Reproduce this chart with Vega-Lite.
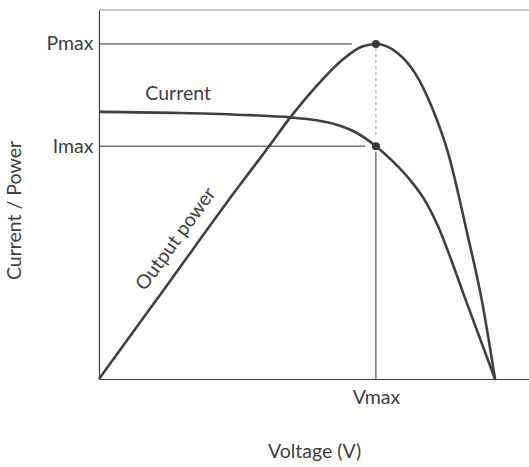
{
  "$schema": "https://vega.github.io/schema/vega-lite/v6.json",
  "width": 430,
  "height": 369,
  "autosize": {"type": "none"},
  "padding": {"left": 99, "top": 10, "right": 0, "bottom": 88},
  "config": {"view": {"stroke": null}, "font": "Lato"},
  "datasets": {
    "curves": [
      {"series": "Current", "x": 0, "y": 72.4},
      {"series": "Current", "x": 18.8, "y": 72.1},
      {"series": "Current", "x": 35.1, "y": 71.5},
      {"series": "Current", "x": 44.4, "y": 70.9},
      {"series": "Current", "x": 50.6, "y": 70.1},
      {"series": "Current", "x": 55.3, "y": 68.9},
      {"series": "Current", "x": 59.1, "y": 67.2},
      {"series": "Current", "x": 64.4, "y": 63.1},
      {"series": "Current", "x": 68.4, "y": 58.9},
      {"series": "Current", "x": 72.3, "y": 54.0},
      {"series": "Current", "x": 76.0, "y": 48.0},
      {"series": "Current", "x": 79.0, "y": 41.0},
      {"series": "Current", "x": 82.0, "y": 32.0},
      {"series": "Current", "x": 85.1, "y": 22.0},
      {"series": "Current", "x": 92.1, "y": 0},
      {"series": "Power", "x": 0, "y": 0},
      {"series": "Power", "x": 16, "y": 25.7},
      {"series": "Power", "x": 32, "y": 51.4},
      {"series": "Power", "x": 38.6, "y": 61.6},
      {"series": "Power", "x": 44.9, "y": 71.5},
      {"series": "Power", "x": 50.2, "y": 78.9},
      {"series": "Power", "x": 56.5, "y": 86.4},
      {"series": "Power", "x": 61.2, "y": 90.1},
      {"series": "Power", "x": 64.4, "y": 90.8},
      {"series": "Power", "x": 69.5, "y": 88.3},
      {"series": "Power", "x": 73.5, "y": 82.9},
      {"series": "Power", "x": 77.4, "y": 73.7},
      {"series": "Power", "x": 81.2, "y": 61.2},
      {"series": "Power", "x": 85.6, "y": 39.6},
      {"series": "Power", "x": 89.1, "y": 20.9},
      {"series": "Power", "x": 92.1, "y": 0}
    ],
    "refs": [
      {"x": 0, "x2": 58.8, "y": 90.8, "y2": 90.8},
      {"x": 0, "x2": 61.9, "y": 63.1, "y2": 63.1},
      {"x": 64.4, "x2": 64.4, "y": 0, "y2": 61.6}
    ],
    "dashed": [
      {"x": 64.4, "x2": 64.4, "y": 66.1, "y2": 89.7}
    ],
    "border": [
      {"x": 0, "x2": 100, "y": 100, "y2": 100}
    ],
    "points": [
      {"x": 64.4, "y": 90.8},
      {"x": 64.4, "y": 63.1}
    ],
    "label1": [{"x": 18.4, "y": 77.2, "text": "Current"}],
    "label2": [{"x": 17.9, "y": 37.9, "text": "Output power"}]
  },
  "encoding": {
    "x": {
      "field": "x", "type": "quantitative",
      "scale": {"domain": [0, 100], "nice": false, "zero": false},
      "axis": {
        "title": "Voltage (V)",
        "values": [64.4],
        "labelExpr": "'Vmax'",
        "grid": false, "ticks": false,
        "domainColor": "#404040", "domainWidth": 1.2,
        "labelFont": "Lato", "labelFontSize": 19.5, "labelColor": "#404040", "labelPadding": 9,
        "titleFont": "Lato", "titleFontSize": 19.5, "titleFontWeight": "normal", "titleColor": "#404040", "titlePadding": 36
      }
    },
    "y": {
      "field": "y", "type": "quantitative",
      "scale": {"domain": [0, 100], "nice": false, "zero": false},
      "axis": {
        "title": "Current / Power",
        "values": [63.1, 90.8],
        "labelExpr": "datum.value > 80 ? 'Pmax' : 'Imax'",
        "grid": false, "ticks": false,
        "domainColor": "#404040", "domainWidth": 1.2,
        "labelFont": "Lato", "labelFontSize": 19.5, "labelColor": "#404040", "labelPadding": 6,
        "titleFont": "Lato", "titleFontSize": 19.5, "titleFontWeight": "normal", "titleColor": "#404040", "titlePadding": 22, "titleY": 200
      }
    }
  },
  "layer": [
    {
      "data": {"name": "border"},
      "mark": {"type": "rule", "color": "#8c8c8c", "strokeWidth": 1},
      "encoding": {"x2": {"field": "x2"}, "y2": {"field": "y2"}}
    },
    {
      "data": {"name": "refs"},
      "mark": {"type": "rule", "color": "#303030", "strokeWidth": 1},
      "encoding": {"x2": {"field": "x2"}, "y2": {"field": "y2"}}
    },
    {
      "data": {"name": "dashed"},
      "mark": {"type": "rule", "color": "#9a9a9a", "strokeWidth": 1, "strokeDash": [3, 3]},
      "encoding": {"x2": {"field": "x2"}, "y2": {"field": "y2"}}
    },
    {
      "data": {"name": "curves"},
      "mark": {"type": "line", "color": "#404040", "strokeWidth": 2.6, "interpolate": "monotone"},
      "encoding": {"detail": {"field": "series", "type": "nominal"}}
    },
    {
      "data": {"name": "points"},
      "mark": {"type": "circle", "color": "#383838", "opacity": 1, "size": 64},
      "encoding": {}
    },
    {
      "data": {"name": "label1"},
      "mark": {"type": "text", "font": "Lato", "fontSize": 19.5, "color": "#404040", "align": "center", "baseline": "middle"},
      "encoding": {"text": {"field": "text"}}
    },
    {
      "data": {"name": "label2"},
      "mark": {"type": "text", "font": "Lato", "fontSize": 19.5, "color": "#404040", "align": "center", "baseline": "middle", "angle": -54},
      "encoding": {"text": {"field": "text"}}
    }
  ]
}
